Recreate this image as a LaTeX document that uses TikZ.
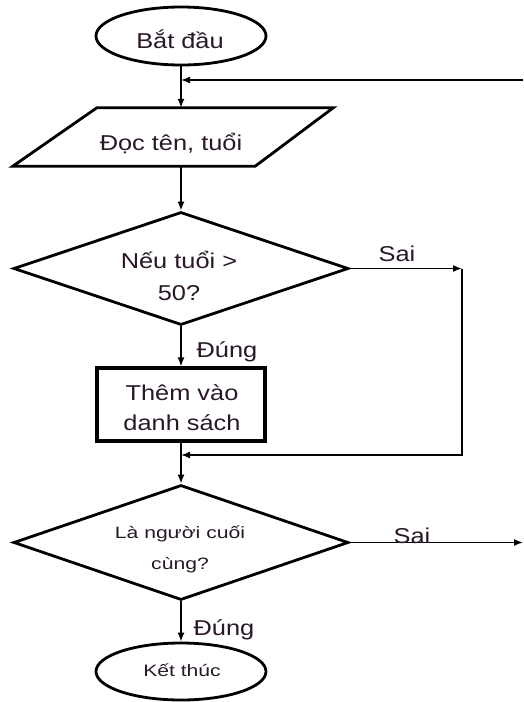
\documentclass[tikz,border=0pt]{standalone}
\usepackage{fontspec}
\usetikzlibrary{shapes.geometric,arrows.meta}
\newfontfamily\flowfont[FakeStretch=1.18]{Liberation Sans}
\newfontfamily\flowfontnarrow[FakeStretch=1.28]{Liberation Sans}
\definecolor{ink}{RGB}{40,24,40}

\begin{document}
\begin{tikzpicture}[x=1pt,y=-1pt,
  shape line/.style={draw=black, line width=2.8pt},
  term/.style={shape line, ellipse, inner sep=0pt, minimum width=170pt, minimum height=58pt},
  decision/.style={shape line, diamond, aspect=3, inner sep=0pt, minimum width=335pt, minimum height=114pt},
  txt/.style={text=ink, align=center, inner sep=0pt, font=\flowfont\fontsize{21.5}{32}\selectfont},
  smalltxt/.style={text=ink, align=center, inner sep=0pt, font=\flowfontnarrow\fontsize{16.5}{31}\selectfont},
  flow/.style={draw=black, line width=1.5pt, -{Latex[length=9pt,width=7pt]}},
]
\useasboundingbox (0,0) rectangle (523,702);
\fill[white] (0,0) rectangle (523,702);

% start / end terminals
\node[term] (start) at (181,36) {};
\node[txt] (startlbl) at (180,39) {Bắt đầu};

\node[term, minimum height=57pt] (stop) at (181,671.5) {};
\node[smalltxt] (stoplbl) at (182,670) {Kết thúc};

% input parallelogram
\node[minimum width=158pt, minimum height=58pt, inner sep=0pt] (input) at (176,137) {};
\draw[shape line] (input.north west) -- ([xshift=78pt]input.north east)
  -- (input.south east) -- ([xshift=-84pt]input.south west) -- cycle;
\node[txt] (inputlbl) at (171,143) {Đọc tên, tuổi};

% first decision
\node[decision, minimum height=113pt] (age) at (181,268.5) {};
\node[txt] (agelbl) at (179,276) {Nếu tuổi >\\50?};

% process box
\node[shape line, line width=3.2pt, minimum width=168pt, minimum height=73pt, inner sep=0pt] (add) at (181,404.5) {};
\node[txt, font=\flowfont\fontsize{21.5}{30}\selectfont] (addlbl) at (182,408) {Thêm vào\\danh sách};

% second decision
\node[decision, minimum height=115pt] (last) at (181,542.5) {};
\node[smalltxt] (lastlbl) at (180,549) {Là người cuối\\cùng?};

% helper points for the loops
\coordinate (loopin) at (523,80);
\coordinate (loopjoin) at (start.south |- loopin);
\coordinate (skip) at (462,268.5);
\coordinate (merge) at (181,455);
\coordinate (skipdown) at (skip |- merge);
\coordinate (exitr) at (last.east -| loopin);

% connectors
\draw[flow] (start.south) -- (input.north -| start.south);
\draw[flow] (loopin) -- (loopjoin);
\draw[flow] (input.south -| start.south) -- (age.north);
\draw[flow] (age.east) -- (skip);
\draw[flow] (skip) -- (skipdown) -- (merge);
\draw[flow] (age.south) -- (add.north);
\draw[flow] (add.south) -- (last.north);
\draw[flow] (last.east) -- (exitr);
\draw[flow] (last.south) -- (stop.north);

% branch labels
\node[txt] (no1) at (397,254) {Sai};
\node[txt] (yes1) at (227,352) {Đúng};
\node[txt] (no2) at (412,535.5) {Sai};
\node[txt] (yes2) at (224,630) {Đúng};
\end{tikzpicture}
\end{document}
